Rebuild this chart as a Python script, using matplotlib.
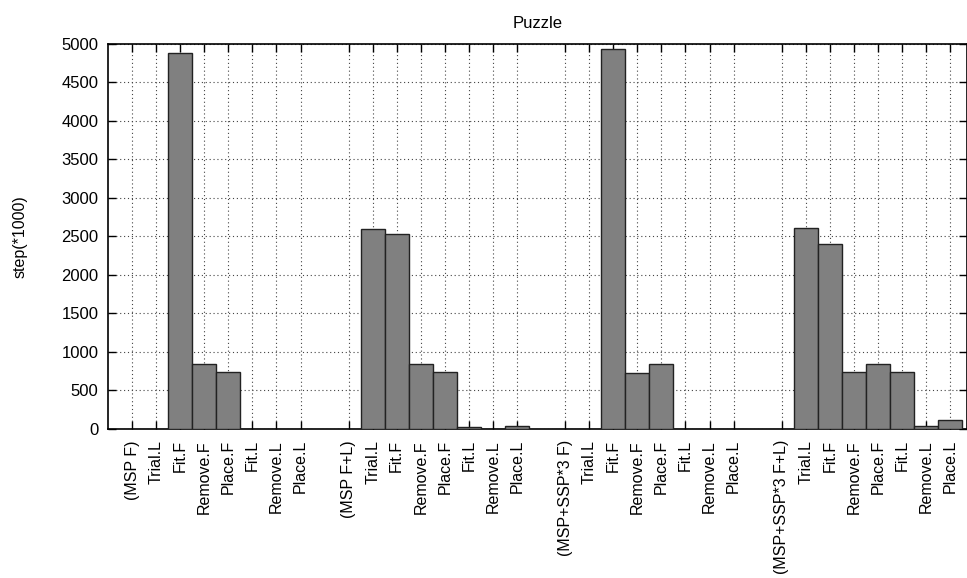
import numpy as np
import matplotlib
matplotlib.use('Agg')
import matplotlib.pyplot as plt

plt.rcParams['font.family'] = ['Liberation Sans', 'DejaVu Sans']

# four runs, eight measurements each
groups = ['(MSP F)', '(MSP F+L)', '(MSP+SSP*3 F)', '(MSP+SSP*3 F+L)']
items = ['Trial.L', 'Fit.F', 'Remove.F', 'Place.F', 'Fit.L', 'Remove.L', 'Place.L']

msp_f = [0, 0, 4880, 840, 735, 0, 0, 0]
msp_fl = [0, 2600, 2535, 840, 735, 25, 0, 45]
msp_ssp_f = [0, 0, 4930, 730, 840, 0, 0, 0]
msp_ssp_fl = [0, 2610, 2400, 735, 840, 735, 45, 120]

series = [msp_f, msp_fl, msp_ssp_f, msp_ssp_fl]

labels = []
values = []
pos = []
for g, (name, vals) in enumerate(zip(groups, series)):
    labels += [name] + items
    values += vals
    pos += [g * 9 + i for i in range(8)]

fig = plt.figure(figsize=(9.67, 5.78), dpi=100)
ax = fig.add_axes([0.1117, 0.2578, 0.8883, 0.6666])

ax.bar(pos, values, width=1.0, color='#808080', edgecolor='#222222', linewidth=1.0, zorder=3)

ax.set_xlim(-1.0, 34.7)
ax.set_ylim(0, 5000)
ax.set_yticks(np.arange(0, 5001, 500))
ax.set_xticks(pos)
ax.set_xticklabels(labels, rotation=90, fontsize=11.5)
ax.tick_params(axis='y', labelsize=12, pad=7)
ax.tick_params(direction='in', length=6, width=1, top=True, right=True)
ax.tick_params(axis='x', pad=8)

ax.grid(True, linestyle=(0, (1, 2.5)), color='#444444', linewidth=0.8, zorder=0)
ax.set_axisbelow(True)
for s in ax.spines.values():
    s.set_linewidth(1.2)

ax.set_ylabel('step(*1000)', fontsize=11.5, labelpad=24)
ax.set_title('Puzzle', fontsize=12, pad=11)

fig.savefig('out.png', dpi=100)
